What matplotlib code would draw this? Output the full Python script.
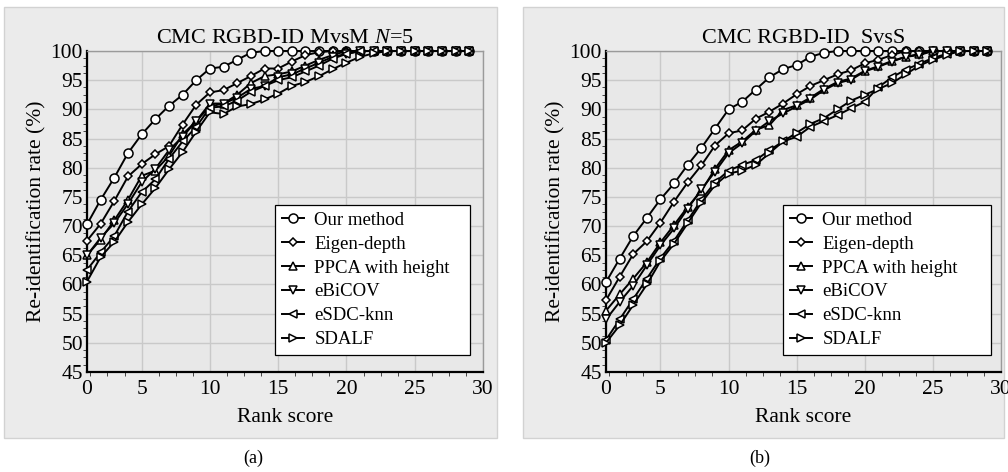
import matplotlib
matplotlib.use("Agg")
import matplotlib.pyplot as plt
from matplotlib.patches import Rectangle
from matplotlib.ticker import MultipleLocator

plt.rcParams['font.family'] = ['Liberation Serif', 'DejaVu Serif']
plt.rcParams['mathtext.fontset'] = 'custom'
plt.rcParams['mathtext.rm'] = 'Liberation Serif'
plt.rcParams['mathtext.it'] = 'Liberation Serif:italic'

# rank positions (1..29)
ranks = list(range(1, 30))
methods = ['Our method', 'Eigen-depth', 'PPCA with height', 'eBiCOV', 'eSDC-knn', 'SDALF']

# panel (a): MvsM N=5
a_our = [70.3, 74.5, 78.3, 82.5, 85.7, 88.3, 90.6, 92.5, 95.0, 97.0, 97.3, 98.5, 99.7, 100, 100,
         100, 100, 100, 100, 100, 100, 100, 100, 100, 100, 100, 100, 100, 100]
a_eigen = [67.5, 70.4, 74.3, 78.5, 80.6, 82.3, 83.7, 87.4, 90.8, 92.9, 93.3, 94.5, 95.7, 97.0, 97.0,
           98.2, 99.3, 99.8, 100, 100, 100, 100, 100, 100, 100, 100, 100, 100, 100]
a_ppca = [65.0, 67.7, 71.0, 74.5, 78.6, 79.5, 82.0, 85.7, 88.0, 90.5, 91.0, 92.5, 94.5, 95.7, 96.0,
          96.5, 97.5, 98.5, 99.3, 100, 100, 100, 100, 100, 100, 100, 100, 100, 100]
a_ebicov = [65.0, 68.0, 70.5, 73.8, 77.5, 79.8, 83.0, 85.3, 88.0, 91.0, 91.0, 92.0, 93.5, 94.0, 95.5,
            96.0, 97.0, 98.0, 99.0, 99.5, 100, 100, 100, 100, 100, 100, 100, 100, 100]
a_esdc = [62.5, 65.5, 68.3, 72.5, 75.8, 78.0, 81.5, 84.5, 87.0, 90.3, 90.5, 91.5, 93.0, 94.0, 95.0,
          95.5, 96.5, 97.5, 98.7, 99.5, 100, 100, 100, 100, 100, 100, 100, 100, 100]
a_sdalf = [60.5, 64.7, 67.3, 70.7, 73.7, 76.5, 79.7, 82.7, 86.2, 89.5, 89.2, 90.5, 90.9, 91.7, 92.7,
           94.0, 94.7, 95.7, 96.9, 98.0, 99.0, 99.6, 100, 100, 100, 100, 100, 100, 100]

# panel (b): SvsS
b_our = [60.4, 64.4, 68.3, 71.4, 74.6, 77.3, 80.5, 83.4, 86.7, 90.0, 91.3, 93.4, 95.5, 96.9, 97.6,
         99.0, 99.7, 100, 100, 100, 100, 100, 100, 100, 100, 100, 100, 100, 100]
b_eigen = [57.3, 61.3, 65.2, 67.4, 70.6, 74.2, 77.5, 80.4, 83.8, 85.9, 86.4, 88.4, 89.6, 91.0, 92.6,
           94.0, 95.0, 96.0, 96.7, 97.9, 98.5, 99.3, 100, 100, 100, 100, 100, 100, 100]
b_ppca = [55.5, 58.3, 61.0, 63.8, 67.2, 70.2, 73.3, 76.0, 79.8, 83.0, 84.5, 86.5, 87.3, 89.9, 90.7,
          92.0, 93.5, 94.7, 95.3, 96.6, 97.4, 98.3, 99.0, 99.5, 100, 100, 100, 100, 100]
b_ebicov = [54.0, 57.0, 59.8, 63.3, 66.7, 69.6, 73.0, 76.3, 79.3, 82.5, 84.2, 86.3, 88.0, 89.3, 90.5,
            91.7, 93.3, 94.5, 95.1, 96.5, 97.3, 98.2, 99.0, 99.3, 100, 100, 100, 100, 100]
b_esdc = [50.5, 54.0, 57.5, 61.0, 64.5, 67.5, 71.0, 74.5, 77.5, 79.5, 80.5, 81.3, 83.0, 84.5, 85.3,
          87.0, 88.0, 89.0, 90.2, 91.3, 93.8, 95.5, 96.8, 97.8, 98.8, 99.5, 100, 100, 100]
b_sdalf = [50.0, 53.0, 56.5, 60.0, 64.0, 67.0, 70.5, 74.0, 77.0, 79.0, 79.5, 80.5, 82.5, 84.5, 86.0,
           87.5, 88.5, 90.0, 91.5, 92.5, 93.5, 94.5, 96.0, 97.5, 98.5, 99.3, 100, 100, 100]

xtick_pos = [1, 5, 10, 15, 20, 25, 30]
xtick_labels = ['0', '5', '10', '15', '20', '25', '30']
yticks = list(range(45, 101, 5))

markers = ['o', 'D', '^', 'v', '<', '>']
msizes = [6.5, 4.5, 6, 6, 6, 6]

W, H = 1008, 472
fig = plt.figure(figsize=(W / 100, H / 100), dpi=100, facecolor='white')

# gray panel backgrounds
for x0, x1 in [(4, 497), (523, 1004)]:
    fig.add_artist(Rectangle((x0 / W, 1 - 438 / H), (x1 - x0) / W, (438 - 7) / H,
                             transform=fig.transFigure, facecolor='#ebebeb',
                             edgecolor='#d2d2d2', linewidth=1, zorder=-10))


def draw_panel(rect, title, series, leg_box, caption, cap_x):
    left, right, top, bottom = rect
    ax = fig.add_axes([left / W, 1 - bottom / H, (right - left) / W, (bottom - top) / H])
    ax.set_facecolor('#e8e8e8')
    for name, ys, m, ms in zip(methods, series, markers, msizes):
        ax.plot(ranks, ys, marker=m, markersize=ms, color='black', linewidth=1.4,
                markerfacecolor='white', markeredgecolor='black', markeredgewidth=1.1,
                label=name, clip_on=False, zorder=3)
    ax.set_xlim(1, 30)
    ax.set_ylim(45, 100)
    ax.set_xticks(xtick_pos)
    ax.set_xticklabels(xtick_labels)
    ax.set_yticks(yticks)
    ax.xaxis.set_minor_locator(MultipleLocator(1.25))
    ax.yaxis.set_minor_locator(MultipleLocator(1.25))
    ax.grid(True, which='major', color='#c9c9c9', linewidth=1.0, zorder=0)
    ax.set_axisbelow(True)
    ax.tick_params(axis='x', which='major', labelsize=15.5, length=0, pad=6)
    ax.tick_params(axis='y', which='major', labelsize=15.5, length=0, pad=3)
    ax.tick_params(axis='both', which='minor', length=3, width=0.7, color='#444444')
    for s in ['left', 'bottom']:
        ax.spines[s].set_color('black')
        ax.spines[s].set_linewidth(1.6)
    for s in ['top', 'right']:
        ax.spines[s].set_color('#9a9a9a')
        ax.spines[s].set_linewidth(1.0)
    ax.set_title(title, fontsize=16, pad=6)
    ax.set_xlabel('Rank score', fontsize=15.5, labelpad=6)
    ax.set_ylabel('Re-identification rate (%)', fontsize=15.5, labelpad=3)
    leg = ax.legend(loc='upper left', bbox_to_anchor=leg_box, mode='expand', fontsize=13.5,
                    frameon=True, fancybox=False, edgecolor='black', facecolor='white',
                    framealpha=1, labelspacing=0.36, handlelength=1.2, handletextpad=0.55,
                    borderpad=0.35, borderaxespad=0)
    leg.get_frame().set_linewidth(0.9)
    leg.set_zorder(5)
    fig.text(cap_x / W, 1 - 458 / H, caption, ha='center', va='center', fontsize=13)
    return ax


draw_panel((87, 483, 51, 372), r'CMC RGBD-ID MvsM $\mathit{N}$=5',
           [a_our, a_eigen, a_ppca, a_ebicov, a_esdc, a_sdalf], (0.475, 0, 0.492, 0.52), '(a)', 253)
draw_panel((606, 1001, 51, 372), 'CMC RGBD-ID  SvsS',
           [b_our, b_eigen, b_ppca, b_ebicov, b_esdc, b_sdalf], (0.448, 0, 0.527, 0.52), '(b)', 760)

fig.savefig('out.png', dpi=100, facecolor='white')
